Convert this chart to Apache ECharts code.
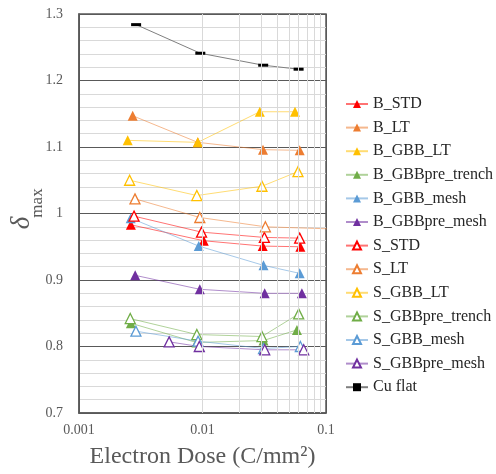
<!DOCTYPE html>
<html><head><meta charset="utf-8">
<script src="https://cdn.jsdelivr.net/npm/echarts@6/dist/echarts.min.js"></script>
<style>html,body{margin:0;padding:0;background:#fff}#c{width:496px;height:474px}</style>
</head><body><div id="c"></div>
<script>
// ---- data ----
const xTickLabels = ['0.001', '0.01', '0.1'];
const yTickLabels = ['0.7', '0.8', '0.9', '1', '1.1', '1.2', '1.3'];
const minorDose = [0.002,0.003,0.004,0.005,0.006,0.007,0.008,0.009,0.02,0.03,0.04,0.05,0.06,0.07,0.08,0.09];

const doseB_STD = [0.00263, 0.01024, 0.0307, 0.0620];
const valB_STD  = [0.983, 0.959, 0.951, 0.950];
const doseB_LT = [0.00272, 0.00916, 0.0309, 0.0612];
const valB_LT  = [1.147, 1.107, 1.096, 1.095];
const doseB_GBB_LT = [0.00248, 0.00916, 0.0291, 0.0561];
const valB_GBB_LT  = [1.110, 1.107, 1.153, 1.153];
const doseB_GBBpre_trench = [0.00263, 0.00894, 0.0312, 0.0582];
const valB_GBBpre_trench  = [0.835, 0.806, 0.809, 0.825];
const doseB_GBB_mesh = [0.00262, 0.00933, 0.0312, 0.0612];
const valB_GBB_mesh  = [0.993, 0.951, 0.922, 0.910];
const doseB_GBBpre_mesh = [0.00285, 0.00951, 0.0319, 0.0638];
const valB_GBBpre_mesh  = [0.907, 0.886, 0.880, 0.880];
const doseS_STD = [0.00279, 0.00982, 0.0317, 0.0612];
const valS_STD  = [0.996, 0.972, 0.964, 0.963];
const doseS_LT = [0.00284, 0.00951, 0.0323, 0.15];
const valS_LT  = [1.022, 0.994, 0.980, 0.976];
const doseS_GBB_LT = [0.00257, 0.00900, 0.0303, 0.0593];
const valS_GBB_LT  = [1.050, 1.027, 1.041, 1.063];
const doseS_GBBpre_trench = [0.00260, 0.00900, 0.0303, 0.0601];
const valS_GBBpre_trench  = [0.842, 0.818, 0.815, 0.849];
const doseS_GBB_mesh = [0.00289, 0.00921, 0.0312, 0.0620];
const valS_GBB_mesh  = [0.823, 0.808, 0.797, 0.800];
const doseS_GBBpre_mesh = [0.00537, 0.00942, 0.0319, 0.0660];
const valS_GBBpre_mesh  = [0.807, 0.800, 0.795, 0.795];
const doseCu = [0.0029, 0.0096, 0.031, 0.060];
const valCu  = [1.284, 1.241, 1.223, 1.217];

// ---- build ----
const zip = (xs, ys) => xs.map((x, i) => [x, ys[i]]);
const SERIF = "'Liberation Serif', 'Times New Roman', serif";
const C = { red:'#FF0000', orange:'#ED7D31', gold:'#FFC000', green:'#70AD47', blue:'#5B9BD5', purple:'#7030A0' };

function filled(name, xs, ys, col) {
  return { name, type:'line', data: zip(xs, ys), symbol:'triangle', symbolSize:10,
    itemStyle:{ color: col }, lineStyle:{ color: col, width:1, opacity:0.55 }, z:3 };
}
function open(name, xs, ys, col) {
  return { name, type:'line', data: zip(xs, ys), symbol:'triangle', symbolSize:10,
    itemStyle:{ color:'#ffffff', borderColor: col, borderWidth:1.3 }, lineStyle:{ color: col, width:1, opacity:0.55 }, z:4 };
}

const series = [
  filled('B_STD', doseB_STD, valB_STD, C.red),
  filled('B_LT', doseB_LT, valB_LT, C.orange),
  filled('B_GBB_LT', doseB_GBB_LT, valB_GBB_LT, C.gold),
  filled('B_GBBpre_trench', doseB_GBBpre_trench, valB_GBBpre_trench, C.green),
  filled('B_GBB_mesh', doseB_GBB_mesh, valB_GBB_mesh, C.blue),
  filled('B_GBBpre_mesh', doseB_GBBpre_mesh, valB_GBBpre_mesh, C.purple),
  open('S_STD', doseS_STD, valS_STD, C.red),
  open('S_LT', doseS_LT, valS_LT, C.orange),
  open('S_GBB_LT', doseS_GBB_LT, valS_GBB_LT, C.gold),
  open('S_GBBpre_trench', doseS_GBBpre_trench, valS_GBBpre_trench, C.green),
  open('S_GBB_mesh', doseS_GBB_mesh, valS_GBB_mesh, C.blue),
  open('S_GBBpre_mesh', doseS_GBBpre_mesh, valS_GBBpre_mesh, C.purple),
  { name:'Cu flat', type:'line', data: zip(doseCu, valCu), symbol:'rect', symbolSize:[10,3],
    itemStyle:{ color:'#000000' }, lineStyle:{ color:'#7f7f7f', width:1 }, z:3 },
  { name:'minor', type:'line', data:[], z:1, silent:true,
    markLine:{ silent:true, symbol:['none','none'], label:{show:false},
      lineStyle:{ color:'#d9d9d9', width:1, type:'solid' },
      data: minorDose.map(v => ({ xAxis: v })) } }
];

const chart = echarts.init(document.getElementById('c'));
chart.setOption({
  animation:false,
  backgroundColor:'#ffffff',
  grid:{ left:79, top:14, right:170, bottom:60, show:true, borderColor:'#595959', borderWidth:1.5 },
  xAxis:{ type:'log', logBase:10, min:0.001, max:0.1,
    axisLine:{ show:true, lineStyle:{ color:'#595959', width:1.5 } },
    axisTick:{ show:false },
    splitLine:{ show:true, lineStyle:{ color:'#595959', width:1 } },
    axisLabel:{ margin:10, fontFamily:SERIF, fontSize:14, color:'#595959',
      formatter: v => { const s = String(Number(v.toPrecision(3))); return xTickLabels.includes(s) ? s : ''; } },
    name:'Electron Dose (C/mm²)', nameLocation:'middle', nameGap:32,
    nameTextStyle:{ fontFamily:SERIF, fontSize:24, color:'#595959' } },
  yAxis:{ type:'value', min:0.7, max:1.3, interval:0.1,
    axisLine:{ show:true, lineStyle:{ color:'#595959', width:1.5 } },
    axisTick:{ show:false },
    splitLine:{ show:true, lineStyle:{ color:'#595959', width:1 } },
    minorTick:{ show:false, splitNumber:5 },
    minorSplitLine:{ show:true, lineStyle:{ color:'#d9d9d9', width:1 } },
    axisLabel:{ margin:16, fontFamily:SERIF, fontSize:14, color:'#595959',
      formatter: v => { const s = String(Number(v.toFixed(2))); return yTickLabels.includes(s) ? s : ''; } } },
  legend:{ orient:'vertical', left:340, top:91, itemWidth:22, itemHeight:10, itemGap:7.6,
    data: series.filter(s => s.name !== 'minor').map(s => s.name),
    textStyle:{ fontFamily:SERIF, fontSize:16, color:'#262626' } },
  graphic:[
    { type:'text', x:22, y:223, rotation:Math.PI/2,
      style:{ text:'δ', font:"italic 27px 'Liberation Serif', serif", fill:'#595959', align:'center', verticalAlign:'middle' } },
    { type:'text', x:38, y:203, rotation:Math.PI/2,
      style:{ text:'max', font:"17px 'Liberation Serif', serif", fill:'#595959', align:'center', verticalAlign:'middle' } }
  ],
  series
});
</script></body></html>
